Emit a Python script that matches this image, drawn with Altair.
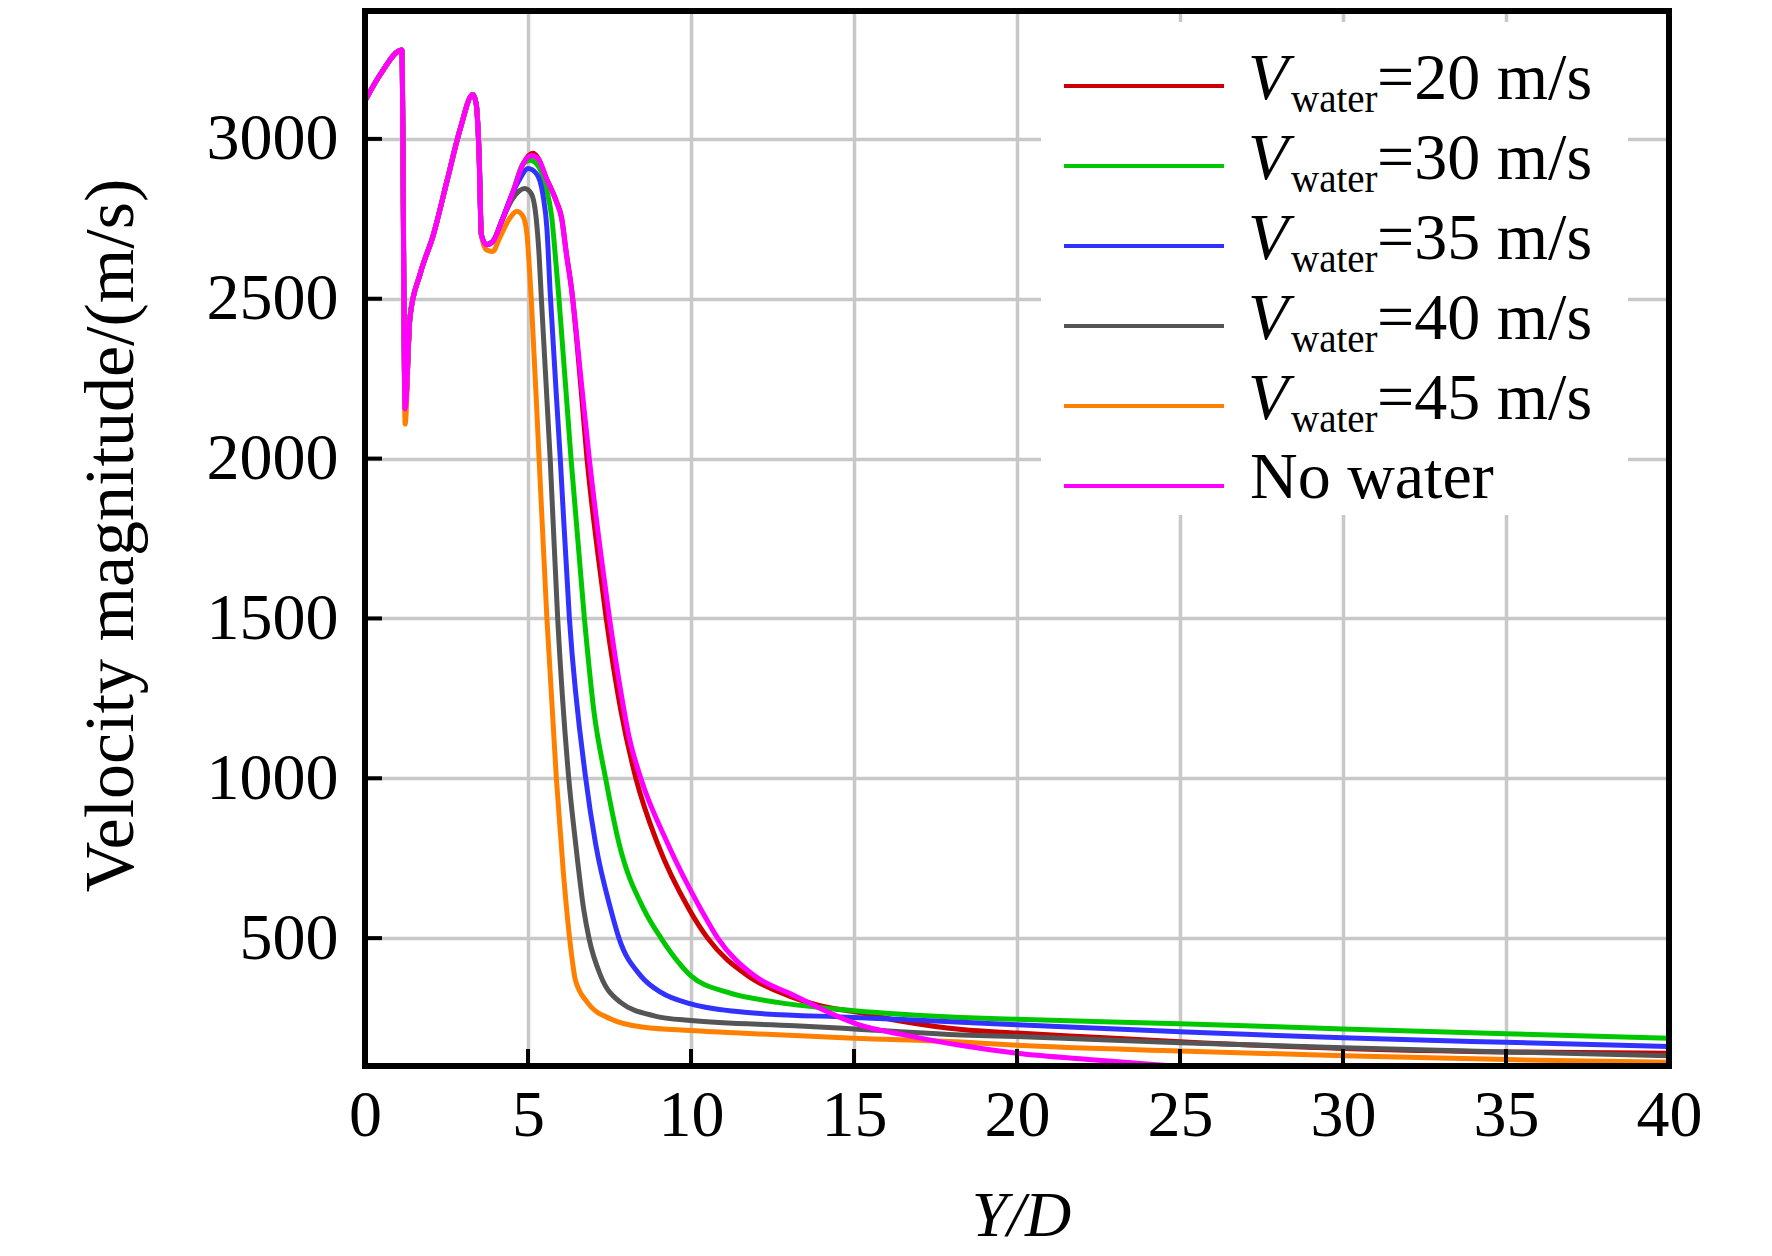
import altair as alt
import pandas as pd

# ---------------- data ----------------
prefix_u = [0, 0.46, 1.13, 1.23, 1.38, 1.69, 2.1, 2.51, 2.92, 3.31, 3.41, 3.5, 3.57]
prefix_v = [3119, 3200, 3278, 2155, 2443, 2577, 2701, 2866, 3031, 3139, 3110, 2950, 2700]
prefix_v_45 = [3119, 3200, 3278, 2108, 2443, 2577, 2701, 2866, 3031, 3139, 3110, 2950, 2700]

nowater_u = [3.72, 3.92, 4.23, 4.54, 4.85, 5.10, 5.31, 5.56, 5.87, 6.03, 6.18, 6.33, 6.66, 6.88,
             7.24, 7.5, 7.8, 8.1, 8.46, 9.28, 10.31, 10.82, 11.95, 13.18, 14.0, 15.24, 16.46,
             18.3, 20.0, 22.4, 24.8, 27]
nowater_v = [2669, 2679, 2752, 2834, 2922, 2948, 2938, 2876, 2803, 2752, 2638, 2534, 2215, 2000,
             1697, 1500, 1300, 1130, 1000, 797, 589, 500, 382, 320, 278, 226, 199,
             164, 140, 119, 100, 85]

w20_u = [3.72, 3.92, 4.23, 4.54, 4.85, 5.15, 5.31, 5.56, 5.87, 6.03, 6.18, 6.33, 6.63, 6.81, 7.15,
         7.40, 7.85, 8.31, 8.97, 9.95, 10.51, 11.75, 12.98, 14.2, 15.0, 16.46, 18.3, 20, 22.4,
         25, 30, 35, 40]
w20_v = [2669, 2679, 2752, 2834, 2922, 2955, 2940, 2878, 2805, 2754, 2640, 2536, 2215, 2000, 1697,
         1500, 1211, 1000, 797, 589, 500, 382, 320, 283, 270, 240, 214, 203, 190,
         176, 155, 144, 140]

w30_u = [3.72, 3.92, 4.23, 4.54, 4.85, 5.07, 5.36, 5.56, 5.72, 5.87, 5.95, 6.32, 6.73, 7.02, 7.38,
         7.79, 8.56, 9.08, 10.0, 11.13, 12.67, 15, 18.3, 20, 25, 30, 35, 40]
w30_v = [2669, 2679, 2752, 2834, 2922, 2933, 2907, 2845, 2762, 2596, 2500, 2000, 1500, 1211, 1000,
         797, 589, 500, 382, 330, 299, 273, 252, 246, 232, 216, 201, 187]

w35_u = [3.72, 3.92, 4.23, 4.54, 4.75, 5.0, 5.26, 5.46, 5.58, 5.68, 5.99, 6.27, 6.77, 7.07, 7.54,
         7.79, 8.46, 9.08, 10, 11.64, 15, 18.3, 20, 25, 30, 35, 40]
w35_v = [2669, 2679, 2752, 2834, 2875, 2907, 2891, 2824, 2720, 2520, 2000, 1500, 1000, 797, 589,
         500, 382, 330, 294, 268, 252, 237, 229, 207, 188, 174, 161]

w40_u = [3.72, 3.92, 4.23, 4.54, 4.9, 5.10, 5.24, 5.34, 5.41, 5.68, 5.91, 6.25, 6.46, 6.71, 6.87,
         7.23, 7.84, 8.87, 10, 13.18, 15, 18.3, 20, 25, 30, 35, 40]
w40_v = [2669, 2679, 2752, 2815, 2845, 2829, 2762, 2638, 2500, 2000, 1500, 1000, 797, 589, 500,
         382, 299, 257, 242, 226, 216, 197, 192, 173, 157, 144, 132]

w45_u = [3.72, 3.92, 4.13, 4.44, 4.66, 4.85, 4.97, 5.03, 5.10, 5.34, 5.58, 5.87, 6.08, 6.37, 6.45,
         6.82, 7.54, 8.56, 10, 12.16, 15, 18.3, 20, 25, 30, 35, 40]
w45_v = [2653, 2648, 2690, 2752, 2774, 2757, 2700, 2617, 2500, 2000, 1500, 1000, 711, 422, 370,
         299, 247, 221, 211, 200, 187, 175, 165, 147, 132, 120, 112]

series_names = ["20", "30", "35", "40", "45", "No water"]
series_colors = ["#cc0000", "#00c800", "#3232ff", "#555555", "#ff8000", "#ff00ff"]
series_u = [prefix_u + w20_u, prefix_u + w30_u, prefix_u + w35_u, prefix_u + w40_u,
            prefix_u + w45_u, prefix_u + nowater_u]
series_v = [prefix_v + w20_v, prefix_v + w30_v, prefix_v + w35_v, prefix_v + w40_v,
            prefix_v_45 + w45_v, prefix_v + nowater_v]

x_ticks = [0, 5, 10, 15, 20, 25, 30, 35, 40]
y_ticks = [500, 1000, 1500, 2000, 2500, 3000]

# ---------------- layout ----------------
FONT = "Liberation Serif"
W, H = 1304, 1055
GRID = "#c8c8c8"

x_enc = alt.X(
    "u:Q",
    scale=alt.Scale(domain=[0, 40], nice=False, zero=False),
    axis=alt.Axis(
        values=x_ticks, format="d", title="Y/D", grid=True, gridColor=GRID, gridWidth=3.5,
        ticks=False, tickSize=0, domain=False, labelFlush=False, labelOverlap=False,
        labelPadding=17, labelFont=FONT, labelFontSize=66, labelColor="black",
        titleFont=FONT, titleFontSize=64, titleFontStyle="italic", titleFontWeight="normal",
        titleColor="black", titleX=656, titleY=150, titleBaseline="middle", titleAlign="center",
    ),
)
y_enc = alt.Y(
    "v:Q",
    scale=alt.Scale(domain=[100, 3400], nice=False, zero=False),
    axis=alt.Axis(
        values=y_ticks, format="d", title="Velocity magnitude/(m/s)", grid=True,
        gridColor=GRID, gridWidth=3.5, ticks=False, tickSize=0, domain=False,
        labelFlush=False, labelOverlap=False, labelPadding=27, labelFont=FONT,
        labelFontSize=66, labelColor="black", titleFont=FONT, titleFontSize=70,
        titleFontWeight="normal", titleColor="black", titleX=-254, titleY=524,
        titleBaseline="middle", titleAlign="center",
    ),
)

layers = []
for name, us, vs, col in zip(series_names, series_u, series_v, series_colors):
    df = pd.DataFrame({"u": us, "v": vs})
    layers.append(
        alt.Chart(df).mark_line(color=col, strokeWidth=5, interpolate="monotone", clip=True)
        .encode(x=x_enc, y=y_enc)
    )

# inward ticks
layers.append(
    alt.Chart(pd.DataFrame({"u": x_ticks[1:-1]})).mark_rule(color="black", strokeWidth=4)
    .encode(x=x_enc, y=alt.value(H), y2=alt.value(H - 17))
)
layers.append(
    alt.Chart(pd.DataFrame({"v": y_ticks})).mark_rule(color="black", strokeWidth=4)
    .encode(y=y_enc, x=alt.value(0), x2=alt.value(17))
)

# plot frame drawn on top of the grid
layers.append(
    alt.Chart(pd.DataFrame({"a": [0]})).mark_rect(fill=None, stroke="black", strokeWidth=6)
    .encode(x=alt.value(0), x2=alt.value(W), y=alt.value(0), y2=alt.value(H))
)

# legend background
layers.append(
    alt.Chart(pd.DataFrame({"a": [0]})).mark_rect(fill="white")
    .encode(x=alt.value(676), x2=alt.value(1263), y=alt.value(11), y2=alt.value(504))
)

def txt(s, x, y, size=66, style="normal"):
    return (alt.Chart(pd.DataFrame({"t": [s]}))
            .mark_text(font=FONT, fontSize=size, fontStyle=style, align="left",
                       baseline="alphabetic", color="black")
            .encode(text="t:N", x=alt.value(x), y=alt.value(y)))

for i, (name, col) in enumerate(zip(series_names, series_colors)):
    ry = 75 + 80 * i
    layers.append(
        alt.Chart(pd.DataFrame({"a": [0]})).mark_rule(color=col, strokeWidth=4)
        .encode(x=alt.value(699), x2=alt.value(859), y=alt.value(ry))
    )
    if name == "No water":
        layers.append(txt("No water", 885, ry + 12))
    else:
        layers.append(txt("V", 883, ry + 13, style="italic"))
        layers.append(txt("water", 926, ry + 26, size=39))
        layers.append(txt("=" + name + " m/s", 1012, ry + 13))

chart = (
    alt.layer(*layers)
    .properties(width=W, height=H, autosize=alt.AutoSizeParams(type="none"),
                padding={"left": 357, "top": 3, "right": 95, "bottom": 188},
                background="white")
    .configure_view(stroke=None)
)

chart.save("out.html", embed_options={"renderer": "svg", "actions": False})
